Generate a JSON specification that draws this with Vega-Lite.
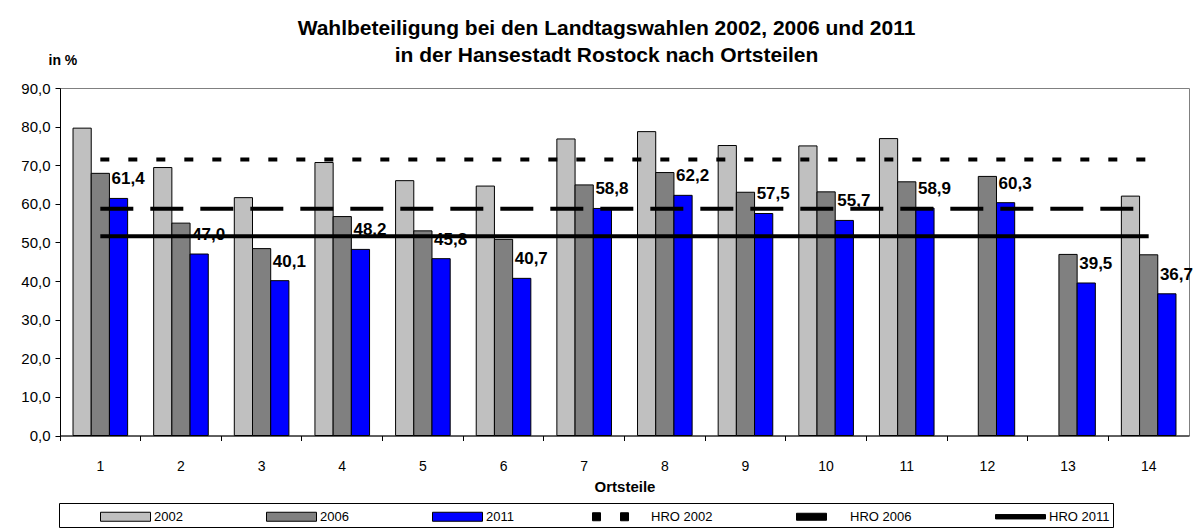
{
  "$schema": "https://vega.github.io/schema/vega-lite/v6.json",
  "width": 1129,
  "height": 347.5,
  "autosize": "none",
  "padding": {"left": 60, "top": 88, "right": 11, "bottom": 92.5},
  "background": "white",
  "config": {
    "font": "Liberation Sans",
    "locale": {"number": {"decimal": ",", "thousands": ".", "grouping": [3], "currency": ["", " €"]}},
    "view": {"stroke": "#808080", "strokeWidth": 1},
    "axis": {"domainColor": "black", "tickColor": "black", "labelColor": "black", "titleColor": "black", "labelFont": "Liberation Sans", "titleFont": "Liberation Sans", "grid": false, "labelOverlap": false},
    "axisY": {"labelOverlap": false, "ticks": true, "tickSize": 5, "labelFontSize": 15, "labelPadding": 5},
    "axisQuantitative": {"labelOverlap": false, "tickCount": 10}
  },
  "title": {
    "text": ["Wahlbeteiligung bei den Landtagswahlen 2002, 2006 und 2011", "in der Hansestadt Rostock nach Ortsteilen"],
    "font": "Liberation Sans",
    "fontSize": 21,
    "fontWeight": "bold",
    "color": "black",
    "anchor": "middle",
    "dx": -18,
    "dy": 35,
    "lineHeight": 27,
    "offset": 22
  },
  "datasets": {
    "bars": [
      {"ortsteil": 1, "jahr": "2002", "wert": 79.6}, {"ortsteil": 1, "jahr": "2006", "wert": 67.9}, {"ortsteil": 1, "jahr": "2011", "wert": 61.4},
      {"ortsteil": 2, "jahr": "2002", "wert": 69.4}, {"ortsteil": 2, "jahr": "2006", "wert": 55.0}, {"ortsteil": 2, "jahr": "2011", "wert": 47.0},
      {"ortsteil": 3, "jahr": "2002", "wert": 61.6}, {"ortsteil": 3, "jahr": "2006", "wert": 48.4}, {"ortsteil": 3, "jahr": "2011", "wert": 40.1},
      {"ortsteil": 4, "jahr": "2002", "wert": 70.7}, {"ortsteil": 4, "jahr": "2006", "wert": 56.7}, {"ortsteil": 4, "jahr": "2011", "wert": 48.2},
      {"ortsteil": 5, "jahr": "2002", "wert": 66.0}, {"ortsteil": 5, "jahr": "2006", "wert": 53.0}, {"ortsteil": 5, "jahr": "2011", "wert": 45.8},
      {"ortsteil": 6, "jahr": "2002", "wert": 64.6}, {"ortsteil": 6, "jahr": "2006", "wert": 50.8}, {"ortsteil": 6, "jahr": "2011", "wert": 40.7},
      {"ortsteil": 7, "jahr": "2002", "wert": 76.8}, {"ortsteil": 7, "jahr": "2006", "wert": 64.9}, {"ortsteil": 7, "jahr": "2011", "wert": 58.8},
      {"ortsteil": 8, "jahr": "2002", "wert": 78.7}, {"ortsteil": 8, "jahr": "2006", "wert": 68.1}, {"ortsteil": 8, "jahr": "2011", "wert": 62.2},
      {"ortsteil": 9, "jahr": "2002", "wert": 75.1}, {"ortsteil": 9, "jahr": "2006", "wert": 63.0}, {"ortsteil": 9, "jahr": "2011", "wert": 57.5},
      {"ortsteil": 10, "jahr": "2002", "wert": 75.0}, {"ortsteil": 10, "jahr": "2006", "wert": 63.1}, {"ortsteil": 10, "jahr": "2011", "wert": 55.7},
      {"ortsteil": 11, "jahr": "2002", "wert": 76.9}, {"ortsteil": 11, "jahr": "2006", "wert": 65.7}, {"ortsteil": 11, "jahr": "2011", "wert": 58.9},
      {"ortsteil": 12, "jahr": "2006", "wert": 67.1}, {"ortsteil": 12, "jahr": "2011", "wert": 60.3},
      {"ortsteil": 13, "jahr": "2006", "wert": 46.9}, {"ortsteil": 13, "jahr": "2011", "wert": 39.5},
      {"ortsteil": 14, "jahr": "2002", "wert": 62.0}, {"ortsteil": 14, "jahr": "2006", "wert": 46.8}, {"ortsteil": 14, "jahr": "2011", "wert": 36.7}
    ],
    "refs": [
      {"ortsteil": 1, "linie": "HRO 2002", "wert": 71.5}, {"ortsteil": 14, "linie": "HRO 2002", "wert": 71.5},
      {"ortsteil": 1, "linie": "HRO 2006", "wert": 58.7}, {"ortsteil": 14, "linie": "HRO 2006", "wert": 58.7},
      {"ortsteil": 1, "linie": "HRO 2011", "wert": 51.6}, {"ortsteil": 14, "linie": "HRO 2011", "wert": 51.6}
    ]
  },
  "layer": [
    {
      "data": {"name": "bars"},
      "mark": {"type": "bar", "stroke": "black", "strokeWidth": 1},
      "encoding": {
        "x": {
          "field": "ortsteil", "type": "ordinal",
          "scale": {"paddingInner": 0, "paddingOuter": 0},
          "axis": {"title": "Ortsteile", "titleFontSize": 15, "titleFontWeight": "bold", "labelAngle": 0, "labelFontSize": 14, "bandPosition": 0, "labelDx": 40.32, "tickSize": 5, "labelPadding": 19, "titlePadding": 6, "labelOverlap": false}
        },
        "xOffset": {"field": "jahr", "type": "nominal", "scale": {"domain": ["2002", "2006", "2011"], "paddingInner": 0, "paddingOuter": 0.715}},
        "y": {
          "field": "wert", "type": "quantitative",
          "scale": {"domain": [0, 90], "nice": false},
          "axis": {"title": "in %", "titleAngle": 0, "titleAlign": "left", "titleBaseline": "middle", "titleX": -12, "titleY": -28, "titleFontSize": 14, "titleFontWeight": "bold", "values": [0, 10, 20, 30, 40, 50, 60, 70, 80, 90], "format": ".1f", "labelFontSize": 15, "tickSize": 5, "labelPadding": 5, "labelOverlap": false}
        },
        "fill": {
          "field": "jahr", "type": "nominal",
          "scale": {"domain": ["2002", "2006", "2011", "HRO 2002", "HRO 2006", "HRO 2011"], "range": ["#C0C0C0", "#808080", "#0000FF", "#000000", "#000000", "#000000"]},
          "legend": {
            "title": null,
            "orient": "none",
            "direction": "horizontal",
            "legendX": -1,
            "legendY": 415,
            "padding": 3,
            "strokeColor": "black",
            "symbolSize": 400,
            "symbolStrokeColor": "black",
            "symbolStrokeWidth": 1,
            "labelFont": "Liberation Sans",
            "labelFontSize": 13,
            "labelColor": "black",
            "labelOffset": 71,
            "columnPadding": 45,
            "encode": {
              "symbols": {
                "update": {
                  "shape": {"signal": "datum.value === 'HRO 2002' ? 'M2.3,-0.4L3.1,-0.4L3.1,0.4L2.3,0.4ZM5.1,-0.4L5.9,-0.4L5.9,0.4L5.1,0.4Z' : datum.value === 'HRO 2006' ? 'M2.8,-0.35L5.8,-0.35L5.8,0.35L2.8,0.35Z' : datum.value === 'HRO 2011' ? 'M2.8,-0.22L7.8,-0.22L7.8,0.22L2.8,0.22Z' : 'M2.8,-0.45L7.8,-0.45L7.8,0.45L2.8,0.45Z'"},
                  "stroke": {"value": "black"},
                  "strokeWidth": {"value": 1}
                }
              }
            }
          }
        }
      }
    },
    {
      "data": {"name": "refs"},
      "mark": {"type": "line", "stroke": "black", "strokeWidth": 4, "strokeCap": "butt"},
      "encoding": {
        "x": {"field": "ortsteil", "type": "ordinal"},
        "y": {"field": "wert", "type": "quantitative", "axis": {"title": "in %", "values": [0, 10, 20, 30, 40, 50, 60, 70, 80, 90], "format": ".1f", "labelOverlap": false}},
        "strokeDash": {"field": "linie", "type": "nominal", "scale": {"domain": ["HRO 2002", "HRO 2006", "HRO 2011"], "range": [[9, 19], [33, 17], [1, 0]]}, "legend": null}
      }
    },
    {
      "data": {"name": "bars"},
      "transform": [{"filter": "datum.jahr === '2011'"}],
      "mark": {"type": "text", "align": "left", "baseline": "bottom", "dx": -7, "dy": -10, "fontSize": 17, "fontWeight": "bold", "font": "Liberation Sans", "color": "black"},
      "encoding": {
        "x": {"field": "ortsteil", "type": "ordinal"},
        "xOffset": {"field": "jahr", "type": "nominal"},
        "y": {"field": "wert", "type": "quantitative", "axis": {"title": "in %", "values": [0, 10, 20, 30, 40, 50, 60, 70, 80, 90], "format": ".1f", "labelOverlap": false}},
        "text": {"field": "wert", "type": "quantitative", "format": ".1f"}
      }
    }
  ]
}
